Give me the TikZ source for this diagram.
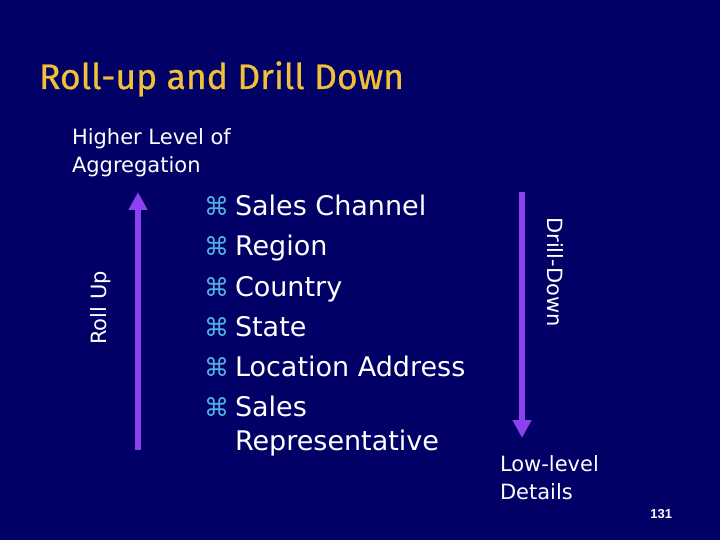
\documentclass[tikz,border=0pt]{standalone}
\usepackage{fontspec}
\setmainfont{DejaVu Sans}
\newfontfamily\titlefont[FakeBold=0.6]{Fira Sans}
\newfontfamily\pagefont{Liberation Sans}
\usetikzlibrary{shapes,arrows,arrows.meta}
\definecolor{slidebg}{RGB}{0,0,102}
\definecolor{titleyellow}{RGB}{240,192,56}
\definecolor{arrowviolet}{RGB}{140,64,240}
\definecolor{bulletcyan}{RGB}{80,176,224}

\begin{document}
\begin{tikzpicture}[x=1pt,y=-1pt,
  every node/.style={inner sep=0pt,outer sep=0pt,text=white},
  heading/.style={anchor=base west,text=titleyellow,font=\titlefont\fontsize{35.5}{42}\selectfont},
  level/.style={anchor=base west,font=\fontsize{27}{32}\selectfont},
  bul/.style={anchor=base west,text=bulletcyan,font=\fontsize{25}{28}\selectfont},
  note/.style={anchor=base west,font=\fontsize{21}{25}\selectfont},
  side/.style={anchor=base,font=\fontsize{21}{25}\selectfont},
  flow/.style={line width=6pt,draw=arrowviolet,-{Triangle[width=18pt,length=18pt]}}]
\useasboundingbox[fill=slidebg] (0,0) rectangle (720,540);

\node[heading] (title) at (39,89) {Roll-up and Drill Down};

\node[note] (higher) at (72,145) {Higher Level of};
\node[note] (aggr) at (72,173) {Aggregation};

% roll up
\coordinate (rollfrom) at (138,450);
\coordinate (rollto) at (138,192);
\draw[flow] (rollfrom) -- (rollto);
\node[side,rotate=90] (rollup) at (106,308) {Roll Up};

% hierarchy
\node[bul] (b1) at (204,215) {⌘};
\node[level] (channel) at (235,215) {Sales Channel};
\node[bul] (b2) at (204,255) {⌘};
\node[level] (region) at (235,255) {Region};
\node[bul] (b3) at (204,296) {⌘};
\node[level] (country) at (235,296) {Country};
\node[bul] (b4) at (204,336) {⌘};
\node[level] (state) at (235,336) {State};
\node[bul] (b5) at (204,376) {⌘};
\node[level] (address) at (235,376) {Location Address};
\node[bul] (b6) at (204,416) {⌘};
\node[level] (sales) at (235,416) {Sales};
\node[level] (rep) at (235,450) {Representative};

% drill down
\coordinate (drillfrom) at (522,192);
\coordinate (drillto) at (522,438);
\draw[flow] (drillfrom) -- (drillto);
\node[side,rotate=-90] (drilldown) at (547,272) {Drill-Down};

\node[note] (low) at (500,471) {Low-level};
\node[note] (details) at (500,499) {Details};

\node[anchor=base east,font=\pagefont\bfseries\fontsize{13}{15}\selectfont] (pageno) at (672,518) {131};
\end{tikzpicture}
\end{document}
